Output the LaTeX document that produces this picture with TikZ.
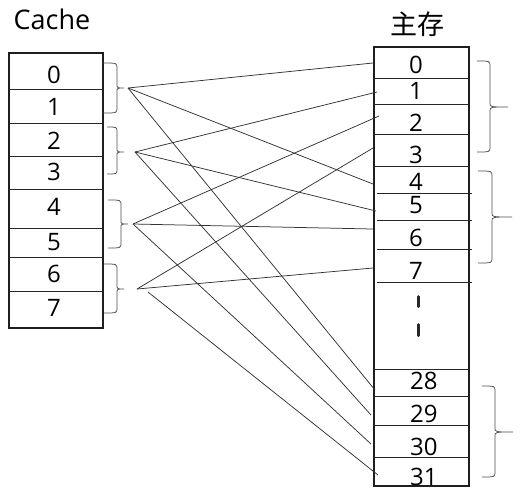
\documentclass[tikz,border=0pt]{standalone}
\usepackage{fontspec}
\setmainfont{Open Sans}
\newfontfamily\cjk{Noto Sans CJK SC}
\begin{document}
\begin{tikzpicture}[x=1pt,y=-1pt,
  box/.style={line width=1.8pt, draw=black!88},
  div/.style={line width=0.8pt, draw=black!85},
  conn/.style={line width=0.75pt, draw=black!80},
  brc/.style={line width=0.75pt, draw=black!70},
  num/.style={font=\fontsize{24}{24}\selectfont, inner sep=0pt, anchor=base},
  mnum/.style={font=\fontsize{24}{24}\selectfont, inner sep=0pt, anchor=base west},
  dotbar/.style={line width=3pt, line cap=round, draw=black!85}]
\useasboundingbox (0,0) rectangle (522,491);

% titles
\node[font=\fontsize{27}{27}\selectfont, inner sep=0pt, anchor=base] (tcache) at (52,29) {Cache};
\node[font=\cjk\fontsize{27}{27}\selectfont, inner sep=0pt] (tmain) at (417,24) {主存};

% cache box
\draw[box] (9,53) rectangle (103,328);
\foreach \y in {89,123,156,189,228,257,291} \draw[div] (9,\y) -- (103,\y);
\node[num] (c0) at (54,83) {0};
\node[num] (c1) at (54,115) {1};
\node[num] (c2) at (54,149) {2};
\node[num] (c3) at (54,180) {3};
\node[num] (c4) at (54,215) {4};
\node[num] (c5) at (54,250) {5};
\node[num] (c6) at (54,282) {6};
\node[num] (c7) at (54,316) {7};

% main memory box
\draw[box] (374,47) rectangle (469,486);
\foreach \y in {78,104,134,166,369,396,425,457} \draw[div] (374,\y) -- (469,\y);
\foreach \y in {193,220,249,282} \draw[div] (377,\y) -- (472,\y);
\node[mnum] (m0n) at (409,73) {0};
\node[mnum] (m1n) at (409,99) {1};
\node[mnum] (m2n) at (409,131) {2};
\node[mnum] (m3n) at (409,163) {3};
\node[mnum] (m4n) at (409,190) {4};
\node[mnum] (m5n) at (409,213) {5};
\node[mnum] (m6n) at (409,246) {6};
\node[mnum] (m7n) at (409,279) {7};
\node[mnum] (m28n) at (410,389) {28};
\node[mnum] (m29n) at (410,422) {29};
\node[mnum] (m30n) at (410,455) {30};
\node[mnum] (m31n) at (410,485) {31};
\draw[dotbar] (418.5,296.5) -- (418.5,306.5);
\draw[dotbar] (418.5,324.5) -- (418.5,335.5);

% left braces
\foreach \l/\t/\v/\m/\b/\tp in {103/63/117/88/113/124, 107/127/117/152/174/124, 108/200/121/224/248/128, 104/264/117/289/313/124}{
  \draw[brc] (\l,\t) .. controls (\v,\t) .. (\v,\t+5) -- (\v,\m-4) .. controls (\v,\m) .. (\tp,\m)
             .. controls (\v,\m) .. (\v,\m+4) -- (\v,\b-5) .. controls (\v,\b) .. (\l,\b);
}
% right braces
\foreach \l/\t/\v/\m/\b/\tp in {477/61/490/107/152/508, 478/171/492/217/263/512, 482/386/495/432/477/513}{
  \draw[brc] (\l,\t) .. controls (\v,\t) .. (\v,\t+5) -- (\v,\m-4) .. controls (\v,\m) .. (\tp,\m)
             .. controls (\v,\m) .. (\v,\m+4) -- (\v,\b-5) .. controls (\v,\b) .. (\l,\b);
}

% connector endpoints
\coordinate (g0) at (128,88);
\coordinate (g1) at (135,152);
\coordinate (g2) at (133,224);
\coordinate (g3) at (137,289);
\coordinate (g3b) at (148,292);
\coordinate (m0) at (373,63);
\coordinate (m1) at (377,92);
\coordinate (m2) at (379,116);
\coordinate (m3) at (373,148);
\coordinate (m4) at (373,184);
\coordinate (m5) at (376,211);
\coordinate (m6) at (373,229);
\coordinate (m7) at (373,268);
\coordinate (m28) at (375,390);
\coordinate (m29) at (371,415);
\coordinate (m30) at (371,444);
\coordinate (m31) at (378,475);

\draw[conn] (g0) -- (m0);
\draw[conn] (g0) -- (m4);
\draw[conn] (g0) -- (m28);
\draw[conn] (g1) -- (m1);
\draw[conn] (g1) -- (m5);
\draw[conn] (g1) -- (m29);
\draw[conn] (g2) -- (m2);
\draw[conn] (g2) -- (m6);
\draw[conn] (g2) -- (m30);
\draw[conn] (g3) -- (m3);
\draw[conn] (g3) -- (m7);
\draw[conn] (g3b) -- (m31);
\end{tikzpicture}
\end{document}
